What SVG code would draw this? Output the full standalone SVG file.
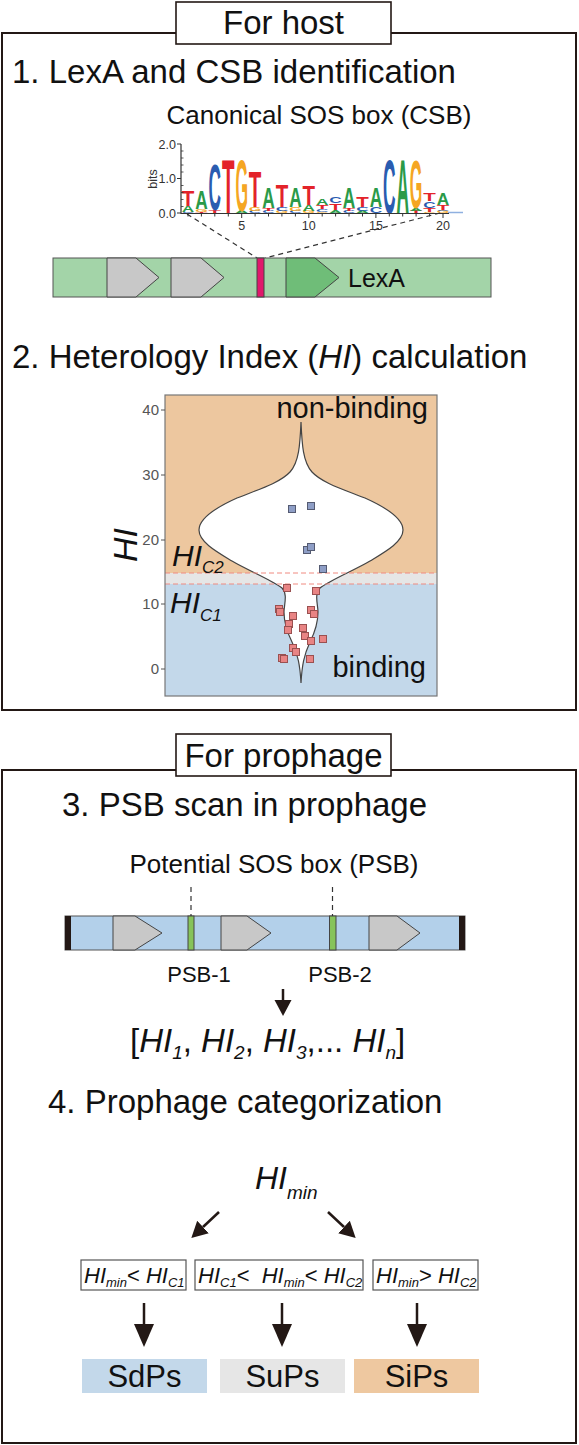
<svg xmlns="http://www.w3.org/2000/svg" width="579" height="1445" viewBox="0 0 579 1445">
<style>
text{font-family:"Liberation Sans",Arial,Helvetica,sans-serif;fill:#111}
.h{font-size:33px}
.it{font-style:italic}
.frame{fill:none;stroke:#231815;stroke-width:2}
.tbox{fill:#fff;stroke:#231815;stroke-width:1.6}
.lg{font-size:10px;font-weight:bold;text-anchor:middle}
.A{fill:#2a9a48}.C{fill:#2a5cb0}.G{fill:#f5a623}.T{fill:#e3232a}
.ax{stroke:#333;stroke-width:1.2;fill:none}
.tick{font-size:12.5px;fill:#333}
.dash{stroke:#333;stroke-width:1.2;stroke-dasharray:5 4;fill:none}
.gray{fill:#c8c8c8;stroke:#444;stroke-width:1}
.ytl{font-size:15px;fill:#555;text-anchor:end}
.rsq{fill:#e88484;stroke:#9a5050;stroke-width:1}
.bsq{fill:#8e9ec6;stroke:#555b72;stroke-width:1}
.cond{fill:#fff;stroke:#555;stroke-width:1.2}
.arr{stroke:#231815;stroke-width:2.5;fill:none}
.lab{font-size:31px;text-anchor:middle}
</style>
<defs>
<marker id="bigHead" markerUnits="userSpaceOnUse" markerWidth="26" markerHeight="22" viewBox="0 -11 26 22" refX="0" refY="0" orient="auto">
<path d="M0,-10 L23,0 L0,10 Z" fill="#231815"/>
</marker>
<marker id="smHead" markerUnits="userSpaceOnUse" markerWidth="20" markerHeight="20" viewBox="0 -10 20 20" refX="0" refY="0" orient="auto">
<path d="M0,-8.5 L16,0 L0,8.5 Z" fill="#231815"/>
</marker>
</defs>

<!-- Frames -->
<g id="host-frame">
<rect class="frame" x="2" y="33" width="574" height="677"/>
<rect class="tbox" x="176" y="2" width="215" height="42"/>
<text class="h" x="283.5" y="34" text-anchor="middle">For host</text>
</g>
<g id="prophage-frame">
<rect class="frame" x="2" y="770" width="574" height="673"/>
<rect class="tbox" x="176" y="734" width="215" height="42"/>
<text class="h" x="283.5" y="767" text-anchor="middle">For prophage</text>
</g>

<!-- Section 1 -->
<g id="step1">
<text class="h" x="12" y="83" font-size="33.5">1. LexA and CSB identification</text>
<text x="319" y="124" font-size="26" text-anchor="middle">Canonical SOS box (CSB)</text>
</g>

<g id="logo">
<text class="lg C" transform="translate(188 213) scale(1.73 .21)">C</text>
<text class="lg A" transform="translate(188 211.5) scale(1.73 .84)">A</text>
<text class="lg T" transform="translate(188 205.5) scale(2.05 2.165)">T</text>
<text class="lg T" transform="translate(201.4 213) scale(2.05 .14)">T</text>
<text class="lg G" transform="translate(201.4 212) scale(1.61 .42)">G</text>
<text class="lg A" transform="translate(201.4 209) scale(1.73 2.65)">A</text>
<text class="lg T" transform="translate(214.8 213) scale(2.05 .42)">T</text>
<text class="lg C" transform="translate(214.8 210) scale(1.73 6.56)">C</text>
<text class="lg T" transform="translate(228.3 213) scale(2.05 7.54)">T</text>
<text class="lg A" transform="translate(241.7 213) scale(1.73 .28)">A</text>
<text class="lg G" transform="translate(241.7 211) scale(1.61 7.26)">G</text>
<text class="lg C" transform="translate(255.1 213) scale(1.73 .28)">C</text>
<text class="lg G" transform="translate(255.1 211) scale(1.61 .56)">G</text>
<text class="lg T" transform="translate(255.1 207) scale(2.05 5.03)">T</text>
<text class="lg C" transform="translate(268.5 213) scale(1.73 .28)">C</text>
<text class="lg T" transform="translate(268.5 211) scale(2.05 .42)">T</text>
<text class="lg A" transform="translate(268.5 208) scale(1.73 2.93)">A</text>
<text class="lg G" transform="translate(281.9 213) scale(1.61 .28)">G</text>
<text class="lg C" transform="translate(281.9 211) scale(1.73 .56)">C</text>
<text class="lg T" transform="translate(281.9 207) scale(2.05 3.07)">T</text>
<text class="lg C" transform="translate(295.4 213) scale(1.73 .28)">C</text>
<text class="lg G" transform="translate(295.4 211) scale(1.61 .56)">G</text>
<text class="lg A" transform="translate(295.4 207) scale(1.73 2.79)">A</text>
<text class="lg G" transform="translate(308.8 213) scale(1.61 .28)">G</text>
<text class="lg A" transform="translate(308.8 211) scale(1.73 .84)">A</text>
<text class="lg T" transform="translate(308.8 205) scale(2.05 2.79)">T</text>
<text class="lg G" transform="translate(322.2 213) scale(1.61 .14)">G</text>
<text class="lg C" transform="translate(322.2 212) scale(1.73 .42)">C</text>
<text class="lg T" transform="translate(322.2 209) scale(2.05 .56)">T</text>
<text class="lg A" transform="translate(322.2 205) scale(1.73 .98)">A</text>
<text class="lg A" transform="translate(335.6 213) scale(1.73 .42)">A</text>
<text class="lg T" transform="translate(335.6 210) scale(2.05 .98)">T</text>
<text class="lg C" transform="translate(335.6 203) scale(1.73 .98)">C</text>
<text class="lg C" transform="translate(349 213) scale(1.73 .28)">C</text>
<text class="lg T" transform="translate(349 211) scale(2.05 .42)">T</text>
<text class="lg A" transform="translate(349 208) scale(1.73 2.93)">A</text>
<text class="lg A" transform="translate(362.5 213) scale(1.73 .28)">A</text>
<text class="lg C" transform="translate(362.5 211) scale(1.73 .56)">C</text>
<text class="lg T" transform="translate(362.5 207) scale(2.05 1.54)">T</text>
<text class="lg C" transform="translate(375.9 213) scale(1.73 .84)">C</text>
<text class="lg A" transform="translate(375.9 207) scale(1.73 2.79)">A</text>
<text class="lg C" transform="translate(389.3 213) scale(1.73 7.54)">C</text>
<text class="lg A" transform="translate(402.7 213) scale(1.73 7.54)">A</text>
<text class="lg T" transform="translate(416.1 213) scale(2.05 .28)">T</text>
<text class="lg A" transform="translate(416.1 211) scale(1.73 .42)">A</text>
<text class="lg G" transform="translate(416.1 208) scale(1.61 6.84)">G</text>
<text class="lg G" transform="translate(429.6 213) scale(1.61 .14)">G</text>
<text class="lg T" transform="translate(429.6 212) scale(2.05 .56)">T</text>
<text class="lg C" transform="translate(429.6 208) scale(1.73 .98)">C</text>
<text class="lg T" transform="translate(429.6 201) scale(2.05 1.12)">T</text>
<text class="lg G" transform="translate(443 213) scale(1.61 .28)">G</text>
<text class="lg C" transform="translate(443 211) scale(1.73 .14)">C</text>
<text class="lg T" transform="translate(443 210) scale(2.05 .7)">T</text>
<text class="lg A" transform="translate(443 205) scale(1.73 1.68)">A</text>

<line x1="448" y1="212.5" x2="463" y2="212.5" stroke="#8fb0e0" stroke-width="1.5"/>
<path class="ax" d="M181,144 V213.5 H449"/>
<path class="ax" d="M177,144 H181 M177,178.5 H181 M177,213 H181"/>
<path stroke="#333" stroke-width="0.8" d="M181,151 h2.5 M181,158 h2.5 M181,165 h2.5 M181,172 h2.5 M181,185.5 h2.5 M181,192.5 h2.5 M181,199.5 h2.5 M181,206.5 h2.5"/>
<path stroke="#333" stroke-width="1" d="M188,213.5v3 M201.4,213.5v3 M214.8,213.5v3 M228.3,213.5v3 M241.7,213.5v4.5 M255.1,213.5v3 M268.5,213.5v3 M281.9,213.5v3 M295.4,213.5v3 M308.8,213.5v4.5 M322.2,213.5v3 M335.6,213.5v3 M349,213.5v3 M362.5,213.5v3 M375.9,213.5v4.5 M389.3,213.5v3 M402.7,213.5v3 M416.1,213.5v3 M429.6,213.5v3 M443,213.5v4.5"/>
<text class="tick" x="176" y="148.5" text-anchor="end">2.0</text>
<text class="tick" x="176" y="183" text-anchor="end">1.0</text>
<text class="tick" x="176" y="217.5" text-anchor="end">0.0</text>
<text class="tick" transform="translate(157 179) rotate(-90)" text-anchor="middle">bits</text>
<text class="tick" x="241.7" y="229.5" text-anchor="middle">5</text>
<text class="tick" x="308.8" y="229.5" text-anchor="middle">10</text>
<text class="tick" x="375.9" y="229.5" text-anchor="middle">15</text>
<text class="tick" x="443" y="229.5" text-anchor="middle">20</text>
</g>

<g id="connectors-zoom">
<path class="dash" d="M187,214 L257,258"/>
<path class="dash" d="M440,213 L265,258"/>
</g>

<g id="lexa-gene">
<rect x="53" y="258" width="438" height="39" fill="#a3d4a8" stroke="#555" stroke-width="1"/>
<polygon class="gray" points="107,258 136,258 159,277.5 136,297 107,297"/>
<polygon class="gray" points="171,258 201,258 224,277.5 201,297 171,297"/>
<rect x="257" y="258" width="7" height="39" fill="#e0196b" stroke="#444" stroke-width="1"/>
<polygon points="286,258 315,258 339,277.5 315,297 286,297" fill="#6fbd78" stroke="#444" stroke-width="1"/>
<text x="348" y="287" font-size="25">LexA</text>
</g>

<!-- Section 2 -->
<g id="step2">
<text class="h" x="12" y="368">2. Heterology Index (<tspan class="it">HI</tspan>) calculation</text>
</g>

<g id="violin-plot">
<rect x="165" y="395" width="272" height="178" fill="#edc79f"/>
<rect x="165" y="573" width="272" height="11" fill="#e6e6e6"/>
<rect x="165" y="584" width="272" height="112" fill="#c3d8ea"/>
<path d="M301,422 C302,445 303,462 312,472 C322,483 345,490 365,498 C385,507 403,518 403,530 C403,542 385,552 370,561 C355,570 330,580 320,588 C314,594 318,605 318,612 C318,620 316,630 310,642 C304,655 302,665 301,683 C300,665 298,655 292,642 C286,630 284,620 284,612 C284,605 288,594 282,588 C272,580 247,570 232,561 C217,552 199,542 199,530 C199,518 217,507 237,498 C257,490 280,483 290,472 C299,462 300,445 301,422 Z" fill="#fff" stroke="#444" stroke-width="1.2"/>
<line x1="165" y1="573" x2="437" y2="573" stroke="#f08a80" stroke-width="1" stroke-dasharray="5 3"/>
<line x1="165" y1="584" x2="437" y2="584" stroke="#f08a80" stroke-width="1" stroke-dasharray="5 3"/>
<rect x="165" y="395" width="272" height="301" fill="none" stroke="#777" stroke-width="1.2"/>
<path stroke="#555" stroke-width="1" d="M161,410 h4 M161,475 h4 M161,540 h4 M161,604 h4 M161,669 h4"/>
<text class="ytl" x="159" y="415">40</text>
<text class="ytl" x="159" y="480">30</text>
<text class="ytl" x="159" y="545">20</text>
<text class="ytl" x="159" y="609">10</text>
<text class="ytl" x="159" y="674">0</text>
<rect class="bsq" x="288.5" y="505.5" width="7" height="7"/>
<rect class="bsq" x="307.5" y="502.5" width="7" height="7"/>
<rect class="bsq" x="303.5" y="546.5" width="7" height="7"/>
<rect class="bsq" x="307.5" y="543.5" width="7" height="7"/>
<rect class="bsq" x="319.5" y="565.5" width="7" height="7"/>
<rect class="rsq" x="283.5" y="584.5" width="7" height="7"/>
<rect class="rsq" x="312.5" y="587.5" width="7" height="7"/>
<rect class="rsq" x="275.5" y="605.5" width="7" height="7"/>
<rect class="rsq" x="276.5" y="608.5" width="7" height="7"/>
<rect class="rsq" x="307.5" y="606.5" width="7" height="7"/>
<rect class="rsq" x="310.5" y="610.5" width="7" height="7"/>
<rect class="rsq" x="289.5" y="612.5" width="7" height="7"/>
<rect class="rsq" x="285.5" y="620.5" width="7" height="7"/>
<rect class="rsq" x="284.5" y="626.5" width="7" height="7"/>
<rect class="rsq" x="299.5" y="624.5" width="7" height="7"/>
<rect class="rsq" x="301.5" y="632.5" width="7" height="7"/>
<rect class="rsq" x="307.5" y="637.5" width="7" height="7"/>
<rect class="rsq" x="319.5" y="635.5" width="7" height="7"/>
<rect class="rsq" x="289.5" y="644.5" width="7" height="7"/>
<rect class="rsq" x="292.5" y="648.5" width="7" height="7"/>
<rect class="rsq" x="278.5" y="654.5" width="7" height="7"/>
<rect class="rsq" x="280.5" y="655.5" width="7" height="7"/>
<rect class="rsq" x="306.5" y="655.5" width="7" height="7"/>
<text x="428" y="418" font-size="29" text-anchor="end">non-binding</text>
<text x="426" y="677" font-size="29" text-anchor="end">binding</text>
<text class="it" transform="translate(137 545) rotate(-90)" font-size="34" text-anchor="middle">HI</text>
<text class="it" x="172" y="566" font-size="30">HI<tspan font-size="17" dy="7">C2</tspan></text>
<text class="it" x="170" y="613" font-size="30">HI<tspan font-size="17" dy="8">C1</tspan></text>
</g>

<!-- Section 3 -->
<g id="step3">
<text class="h" x="62" y="816" font-size="31">3. PSB scan in prophage</text>
<text x="274" y="873" font-size="26" text-anchor="middle">Potential SOS box (PSB)</text>
</g>

<g id="prophage-genome">
<rect x="65" y="916" width="400" height="34" fill="#b3d0ea" stroke="#555" stroke-width="1"/>
<rect x="65" y="916" width="6" height="34" fill="#231815"/>
<rect x="459" y="916" width="6" height="34" fill="#231815"/>
<polygon class="gray" points="113,916 135,916 162,933 135,950 113,950"/>
<polygon class="gray" points="221,916 247,916 271,933 247,950 221,950"/>
<polygon class="gray" points="369,916 397,916 420,933 397,950 369,950"/>
<rect x="188" y="916" width="6" height="34" fill="#86c35a" stroke="#444" stroke-width="1"/>
<rect x="329.5" y="916" width="6.5" height="34" fill="#86c35a" stroke="#444" stroke-width="1"/>
<text x="199" y="982" font-size="22" text-anchor="middle">PSB-1</text>
<text x="340" y="982" font-size="22" text-anchor="middle">PSB-2</text>
</g>

<g id="hi-list">
<text x="130" y="1052" font-size="33">[<tspan class="it">HI</tspan><tspan class="it" font-size="19" dy="7">1</tspan><tspan dy="-7">, </tspan><tspan class="it">HI</tspan><tspan class="it" font-size="19" dy="7">2</tspan><tspan dy="-7">, </tspan><tspan class="it">HI</tspan><tspan class="it" font-size="19" dy="7">3</tspan><tspan dy="-7">,... </tspan><tspan class="it">HI</tspan><tspan class="it" font-size="19" dy="7">n</tspan><tspan dy="-7">]</tspan></text>
</g>

<!-- Section 4 -->
<g id="step4">
<text class="h" x="48" y="1113">4. Prophage categorization</text>
</g>

<g id="hi-min">
<text class="it" x="255" y="1189" font-size="32">HI<tspan font-size="19" dy="10">min</tspan></text>
</g>

<g id="cond1">
<rect class="cond" x="81" y="1260" width="105" height="30"/>
<text x="84" y="1283" font-size="22"><tspan class="it">HI</tspan><tspan class="it" font-size="13" dy="4">min</tspan><tspan dy="-4">&lt; </tspan><tspan class="it">HI</tspan><tspan class="it" font-size="13" dy="4">C1</tspan></text>
</g>
<g id="cond2">
<rect class="cond" x="195" y="1260" width="168" height="30"/>
<text x="198" y="1283" font-size="22" xml:space="preserve"><tspan class="it">HI</tspan><tspan class="it" font-size="13" dy="4">C1</tspan><tspan dy="-4">&lt;  </tspan><tspan class="it">HI</tspan><tspan class="it" font-size="13" dy="4">min</tspan><tspan dy="-4">&lt; </tspan><tspan class="it">HI</tspan><tspan class="it" font-size="13" dy="4">C2</tspan></text>
</g>
<g id="cond3">
<rect class="cond" x="373" y="1260" width="105" height="30"/>
<text x="376" y="1283" font-size="22"><tspan class="it">HI</tspan><tspan class="it" font-size="13" dy="4">min</tspan><tspan dy="-4">&gt; </tspan><tspan class="it">HI</tspan><tspan class="it" font-size="13" dy="4">C2</tspan></text>
</g>

<g id="SdPs">
<rect x="82" y="1359" width="125" height="34" fill="#c3d8ea"/>
<text class="lab" x="144.5" y="1387">SdPs</text>
</g>
<g id="SuPs">
<rect x="220" y="1359" width="125" height="34" fill="#e6e6e6"/>
<text class="lab" x="282.5" y="1387">SuPs</text>
</g>
<g id="SiPs">
<rect x="354" y="1359" width="125" height="34" fill="#eec8a0"/>
<text class="lab" x="416.5" y="1387">SiPs</text>
</g>

<g id="connectors">
<line class="dash" x1="191" y1="887" x2="191" y2="916" stroke-dasharray="4 3"/>
<line class="dash" x1="332.5" y1="887" x2="332.5" y2="916" stroke-dasharray="4 3"/>
<line class="arr" x1="283" y1="989" x2="283" y2="1000" stroke-width="2" marker-end="url(#smHead)"/>
<line class="arr" x1="219" y1="1212" x2="203" y2="1227" marker-end="url(#smHead)"/>
<line class="arr" x1="328" y1="1212" x2="344" y2="1227" marker-end="url(#smHead)"/>
<line class="arr" x1="144" y1="1303" x2="144" y2="1324" marker-end="url(#bigHead)"/>
<line class="arr" x1="282" y1="1303" x2="282" y2="1324" marker-end="url(#bigHead)"/>
<line class="arr" x1="417" y1="1303" x2="417" y2="1324" marker-end="url(#bigHead)"/>
</g>
</svg>
